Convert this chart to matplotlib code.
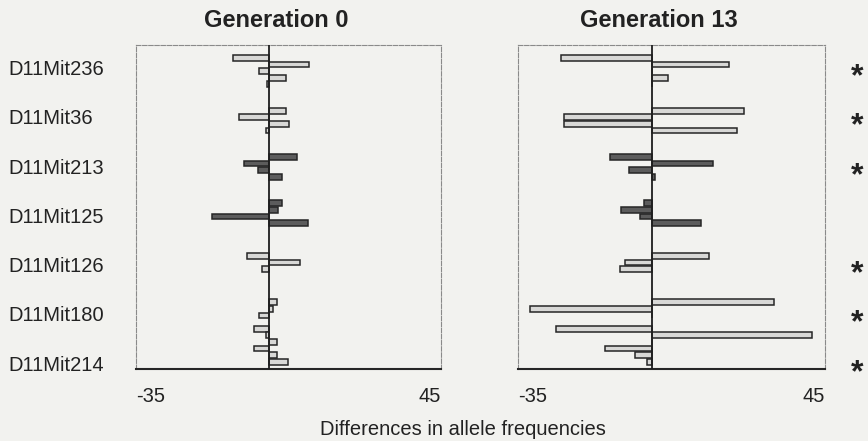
import numpy as np
import matplotlib.pyplot as plt

plt.rcParams['font.family'] = ['Liberation Sans', 'DejaVu Sans']

# marcadores del cromosoma 11
markers = ['D11Mit236', 'D11Mit36', 'D11Mit213', 'D11Mit125',
           'D11Mit126', 'D11Mit180', 'D11Mit214']
dark_markers = ['D11Mit213', 'D11Mit125']
significant = ['D11Mit236', 'D11Mit36', 'D11Mit213',
               'D11Mit126', 'D11Mit180', 'D11Mit214']

# fila (posicion en el eje y) y marcador al que pertenece cada barra
row_slot = [0, 1, 2, 3, 4,
            8, 9, 10, 11,
            15, 16, 17, 18,
            22, 23, 24, 25,
            30, 31, 32,
            37, 38, 39, 41, 42,
            43, 44, 45, 46]
row_marker = [0, 0, 0, 0, 0,
              1, 1, 1, 1,
              2, 2, 2, 2,
              3, 3, 3, 3,
              4, 4, 4,
              5, 5, 5, 5, 5,
              6, 6, 6, 6]

# diferencias en frecuencias alelicas
gen0 = [-9.6, 10.3, -2.8, 4.4, -0.7,
        4.4, -7.9, 5.2, -0.9,
        7.2, -6.8, -3.0, 3.2,
        3.2, 2.2, -15.0, 10.2,
        -5.9, 8.1, -1.9,
        2.0, 1.0, -2.8, -4.0, -1.0,
        1.9, -4.0, 1.9, 4.9]
gen13 = [-23.9, 20.0, 0.0, 4.0, 0.0,
         24.0, -22.9, -22.9, 22.1,
         -11.0, 15.7, -6.1, 0.7,
         -2.1, -8.2, -3.3, 12.8,
         14.8, -7.2, -8.3,
         31.8, -32.0, 0.0, -25.2, 41.7,
         0.0, -12.4, -4.4, -1.4]

x_ticks = [-35, 45]
titles = ['Generation 0', 'Generation 13']

paper = '#f2f2ef'
ink = '#222222'

fig = plt.figure(figsize=(8.68, 4.41), dpi=100, facecolor=paper)
ax0 = fig.add_axes([0.1567, 0.1633, 0.3514, 0.7347])
ax1 = fig.add_axes([0.5968, 0.1633, 0.3537, 0.7347])

colors = ['#5c5c5c' if markers[m] in dark_markers else '#d8d8d6' for m in row_marker]
label_pos = np.linspace(1.5, 46.2, len(markers))

for ax, vals, title in zip([ax0, ax1], [gen0, gen13], titles):
    ax.set_facecolor(paper)
    ax.barh(row_slot, vals, height=0.86, color=colors,
            edgecolor='#262626', linewidth=1.1, zorder=2)
    ax.axvline(0, color='#1e1e1e', lw=1.3, zorder=3)
    ax.set_xlim(-35, 45)
    ax.set_ylim(47.1, -1.95)
    ax.set_xticks(x_ticks, [str(t) for t in x_ticks])
    lbls = ax.get_xticklabels()
    lbls[0].set_ha('left')
    lbls[1].set_ha('right')
    ax.tick_params(axis='x', length=0, pad=13, labelsize=14.5, labelcolor=ink)
    for s in ['left', 'top', 'right']:
        ax.spines[s].set_color('#8a8a8a')
        ax.spines[s].set_linewidth(0.8)
        ax.spines[s].set_linestyle((0, (4, 1.5)))
    ax.spines['bottom'].set_color('#262626')
    ax.spines['bottom'].set_linewidth(1.5)
    ax.set_title(title, x=0.46, pad=13, fontsize=17, fontweight='bold', color=ink)

ax0.set_yticks(label_pos, markers)
for lbl in ax0.get_yticklabels():
    lbl.set_ha('left')
ax0.tick_params(axis='y', length=0, pad=92, labelsize=14.5, labelcolor=ink)
ax1.set_yticks([])

# asteriscos de significancia
for i, m in enumerate(markers):
    if m in significant:
        ax1.annotate('*', xy=(1.104, label_pos[i]), xycoords=ax1.get_yaxis_transform(),
                     xytext=(0, -7), textcoords='offset points',
                     ha='center', va='center', fontsize=23, fontweight='bold', color=ink)

fig.text(0.533, 0.025, 'Differences in allele frequencies',
         ha='center', va='center', fontsize=14.5, color=ink)

fig.savefig('out.png', dpi=100, facecolor=paper)
